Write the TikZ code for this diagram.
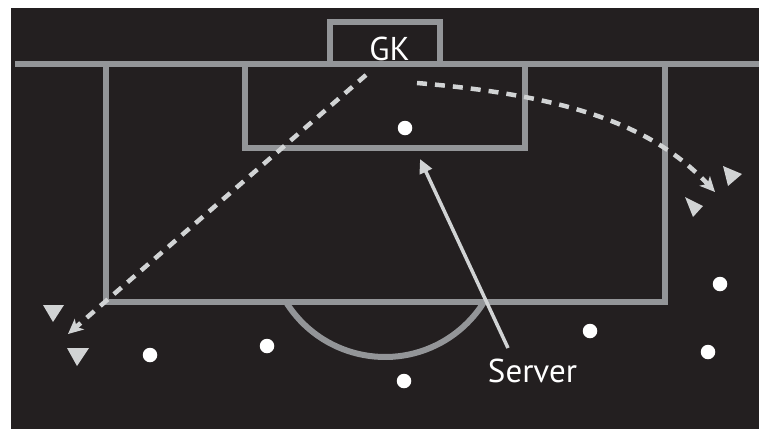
\documentclass[tikz,border=0pt]{standalone}
\usepackage{fontspec}
\setmainfont{PT Sans}
\usetikzlibrary{arrows.meta}
\definecolor{bg}{HTML}{231F20}
\definecolor{fieldline}{HTML}{939598}
\definecolor{marker}{HTML}{D1D3D4}
\begin{document}
\begin{tikzpicture}[x=1pt,y=-1pt,
  pitch/.style={draw=fieldline,line width=6pt},
  player/.style={circle,fill=white,inner sep=0pt,minimum size=14.5pt},
  cone/.style={fill=marker},
  run/.style={draw=marker,line width=4.5pt,dash pattern=on 10pt off 8pt,-{Stealth[length=15pt,width=14pt,inset=4pt]}},
  pass/.style={draw=marker,line width=3.5pt,-{Triangle[length=14pt,width=13pt]}},
  lbl/.style={text=white,font=\fontsize{33}{36}\selectfont,inner sep=0pt}
]
\useasboundingbox (0,0) rectangle (759,429);
\fill[white] (0,0) rectangle (759,429);
\fill[bg] (11,8) rectangle (759,429);
% goal
\draw[pitch] (330,64) -- (330,22) -- (440,22) -- (440,64);
% goal line
\draw[pitch] (15,64) -- (759,64);
% penalty area
\draw[pitch] (105.5,64) -- (105.5,302) -- (664.5,302) -- (664.5,64);
% goal area
\draw[pitch] (245,64) -- (245,148) -- (525,148) -- (525,64);
% penalty arc
\draw[pitch] (286,302) arc[start angle=148.1, end angle=31.9, radius=116.6];
% labels
\node[lbl,anchor=base] (gk) at (389.5,60.7) {GK};
\node[lbl,anchor=base] (server) at (532.5,382.7) {Server};
% players
\node[player] (spot) at (405,128) {};
\node[player] (p1) at (150,355) {};
\node[player] (p2) at (267,346) {};
\node[player] (p3) at (404,381) {};
\node[player] (p4) at (590,331) {};
\node[player] (p5) at (720,284) {};
\node[player] (p6) at (708,352) {};
% markers
\fill[cone] (43,305) -- (64,305) -- (53,322) -- cycle;
\fill[cone] (67,348) -- (89,348) -- (77,366) -- cycle;
\fill[cone] (723,166) -- (742,174) -- (728,186) -- cycle;
\fill[cone] (685,197) -- (703,206) -- (693,217) -- cycle;
% runs
\coordinate (gkA) at (366,75);
\coordinate (runEnd) at (68,334);
\draw[run] (gkA) -- (runEnd);
\coordinate (curveStart) at (417,83);
\coordinate (curveEnd) at (715,192);
\draw[run] (curveStart) .. controls (560,95) and (650,122) .. (curveEnd);
% server pass
\coordinate (srvTail) at (508,348);
\coordinate (srvTip) at (420,159);
\draw[pass] (srvTail) -- (srvTip);
\end{tikzpicture}
\end{document}
